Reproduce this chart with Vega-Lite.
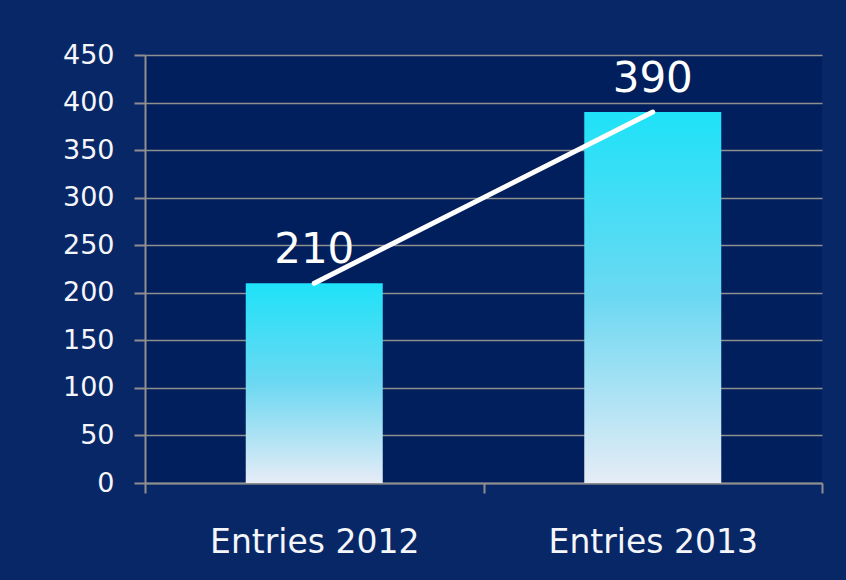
{
  "$schema": "https://vega.github.io/schema/vega-lite/v6.json",
  "width": 677,
  "height": 428,
  "autosize": {"type": "none"},
  "padding": {"left": 145, "top": 55, "right": 24, "bottom": 97},
  "background": "#082767",
  "config": {
    "view": {"fill": "#011e5d", "stroke": null},
    "font": "DejaVu Sans"
  },
  "data": {
    "values": [
      {"category": "Entries 2012", "entries": 210},
      {"category": "Entries 2013", "entries": 390}
    ]
  },
  "encoding": {
    "x": {
      "field": "category",
      "type": "nominal",
      "sort": null,
      "scale": {"paddingInner": 0, "paddingOuter": 0},
      "axis": {
        "title": null,
        "labelAngle": 0,
        "labelFontSize": 33,
        "labelLimit": 500,
        "labelColor": "#f4f6fa",
        "labelPadding": 33,
        "tickBand": "extent",
        "tickSize": 10,
        "tickColor": "#8f8f8f",
        "tickWidth": 2,
        "domainColor": "#8f8f8f",
        "domainWidth": 2,
        "grid": false
      }
    },
    "y": {
      "field": "entries",
      "type": "quantitative",
      "scale": {"domain": [0, 450], "nice": false},
      "axis": {
        "title": null,
        "values": [0, 50, 100, 150, 200, 250, 300, 350, 400, 450],
        "labelFontSize": 27,
        "labelColor": "#f4f6fa",
        "labelPadding": 20,
        "tickSize": 11,
        "tickColor": "#8f8f8f",
        "tickWidth": 2,
        "domainColor": "#8f8f8f",
        "domainWidth": 2,
        "grid": true,
        "gridColor": "#8f8f8f",
        "gridWidth": 1.5
      }
    }
  },
  "layer": [
    {
      "mark": {
        "type": "bar",
        "width": 137,
        "color": {
          "gradient": "linear",
          "x1": 0, "y1": 0, "x2": 0, "y2": 1,
          "stops": [
            {"offset": 0, "color": "#1ee2f8"},
            {"offset": 0.5, "color": "#6cd8f2"},
            {"offset": 1, "color": "#e6ecf6"}
          ]
        }
      }
    },
    {
      "mark": {"type": "line", "color": "#ffffff", "strokeWidth": 5, "strokeCap": "round"}
    },
    {
      "mark": {"type": "text", "dy": -20, "baseline": "alphabetic", "fontSize": 42, "color": "#ffffff"},
      "encoding": {"text": {"field": "entries", "type": "quantitative"}}
    }
  ]
}
